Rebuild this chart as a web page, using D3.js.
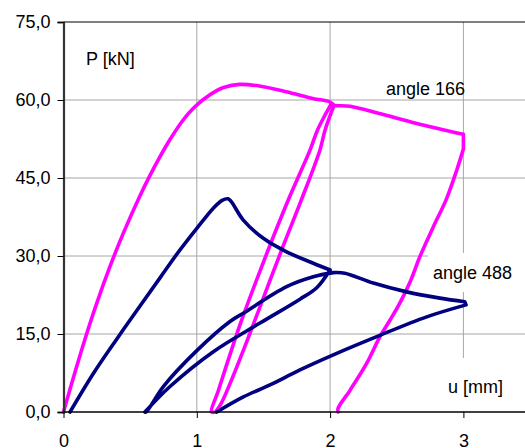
<!DOCTYPE html>
<html lang="en">
<head>
<meta charset="UTF-8">
<title>P - u curves</title>
<script src="https://d3js.org/d3.v7.min.js"></script>
<style>
  body{margin:0;background:#fff;}
  svg{display:block;font-family:"Liberation Sans",Arial,sans-serif;}
  .tick text{font-size:18px;fill:#000;}
  .label{font-size:18px;fill:#000;}
</style>
</head>
<body>
<script>
// axis ticks
const xTicks = [0, 1, 2, 3]
const yTicks = [0, 15, 30, 45, 60, 75]

// angle 166 (magenta): load, unload at 2 mm, reload, load to 3 mm, unload
const a166U = [0, 0.074, 0.161, 0.249, 0.349, 0.449, 0.574, 0.649, 0.724, 0.799, 0.899, 0.974, 1.049, 1.149, 1.2, 1.32, 1.47, 1.67, 1.87, 2.0, 2.03,
               1.962, 1.924, 1.78, 1.637, 1.437, 1.35, 1.25, 1.18, 1.14,
               1.11, 1.16, 1.26, 1.337, 1.536, 1.69, 1.85, 1.905, 1.96, 2.01,
               2.03, 2.15, 2.37, 2.65, 3.0, 3.0,
               2.95, 2.87, 2.774, 2.674, 2.6, 2.524, 2.45, 2.374, 2.275, 2.15, 2.06, 2.06]
const a166P = [0, 6.6, 14.0, 20.9, 28.0, 34.4, 41.6, 45.5, 49.1, 52.4, 56.2, 58.4, 60.1, 61.8, 62.4, 63.0, 62.7, 61.6, 60.3, 59.6, 59.0,
               54.2, 50.4, 40.5, 31.2, 17.7, 11.9, 5.5, 1.5, 0,
               0, 4.0, 11.9, 17.7, 31.2, 41.0, 50.4, 54.2, 57.0, 59.3,
               59.0, 58.8, 57.4, 55.5, 53.4, 50.6,
               46.5, 40.8, 35.6, 29.9, 25.0, 21.0, 17.7, 14.5, 9.4, 4.2, 0.7, 0]
// indices where the path turns sharply
const a166Corners = [20, 29, 39, 44, 45]

// angle 488 (navy)
const a488U = [0.049, 0.224, 0.399, 0.574, 0.724, 0.849, 1.0, 1.124, 1.19, 1.235, 1.26, 1.349, 1.499, 1.674, 1.874, 2.0,
               1.9, 1.774, 1.474, 1.124, 0.799, 0.611,
               0.62, 0.749, 1.0, 1.249, 1.349, 1.674, 1.874, 2.024,
               2.11, 2.324, 2.575, 2.824, 3.01, 3.02,
               2.725, 2.35, 2.024, 1.774, 1.549, 1.349, 1.15]
const a488P = [0, 7.4, 14.0, 20.4, 25.8, 30.3, 35.3, 39.2, 40.7, 41.0, 40.4, 36.9, 33.4, 30.8, 28.6, 27.3,
               23.9, 21.7, 17.1, 11.6, 4.9, 0,
               0, 4.9, 11.8, 17.4, 19.0, 24.1, 26.0, 26.8,
               26.7, 24.8, 23.1, 21.9, 21.2, 20.6,
               18.3, 14.5, 11.0, 8.1, 5.2, 2.9, 0]
const a488Corners = [15, 21, 29, 34, 35]

const svgSize = {width:525, height:448}
const plot = {left:63.5, top:22, bottom:412}

const xScale = d3.scaleLinear().domain([0, 3.5]).range([plot.left, plot.left + 3.5*133.3])
const yScale = d3.scaleLinear().domain([0, 75]).range([plot.bottom, plot.top])

const svg = d3.select("body").append("svg")
    .attr("width", svgSize.width)
    .attr("height", svgSize.height)

// grid
svg.append("g").selectAll("line")
    .data(xTicks.filter(d => d > 0))
    .join("line")
    .attr("x1", d => xScale(d)).attr("x2", d => xScale(d))
    .attr("y1", plot.top).attr("y2", plot.bottom)
    .attr("stroke", "#a6a6a6").attr("stroke-width", 1)
svg.append("g").selectAll("line")
    .data(yTicks.filter(d => d > 0 && d < 75))
    .join("line")
    .attr("x1", plot.left).attr("x2", svgSize.width)
    .attr("y1", d => yScale(d)).attr("y2", d => yScale(d))
    .attr("stroke", "#a6a6a6").attr("stroke-width", 1)
// top border
svg.append("line")
    .attr("x1", plot.left).attr("x2", svgSize.width)
    .attr("y1", yScale(75)).attr("y2", yScale(75))
    .attr("stroke", "#000").attr("stroke-width", 1.2)

// curves, one smooth piece between sharp turns
const line = d3.line()
    .x(d => xScale(d[0]))
    .y(d => yScale(d[1]))
    .curve(d3.curveCatmullRom.alpha(0.5))

function pieces(us, ps, corners) {
  const pts = us.map((u, i) => [u, ps[i]])
  const cuts = [0, ...corners, pts.length - 1]
  let d = ""
  for (let i = 0; i < cuts.length - 1; i++) {
    d += line(pts.slice(cuts[i], cuts[i+1] + 1))
  }
  return d
}

const series = [
  {u:a166U, p:a166P, c:a166Corners, color:"#ff00ff"},
  {u:a488U, p:a488P, c:a488Corners, color:"#000080"}
]
series.forEach(s => {
  svg.append("path")
      .attr("d", pieces(s.u, s.p, s.c))
      .attr("fill", "none")
      .attr("stroke", s.color)
      .attr("stroke-width", 3.6)
      .attr("stroke-linejoin", "round")
      .attr("stroke-linecap", "round")
})

// labels (some sit on a white box)
const labels = [
  {text:"P [kN]", x:86, y:65, box:null},
  {text:"angle 166", x:386, y:95, box:null},
  {text:"angle 488", x:433, y:279, box:{l:5, t:10, b:9}},
  {text:"u [mm]", x:448, y:393, box:{l:25, t:19, b:14}}
]
labels.forEach(l => {
  const g = svg.append("g")
  const t = g.append("text").attr("class", "label")
      .attr("x", l.x).attr("y", l.y).text(l.text)
  if (l.box) {
    const bb = t.node().getBBox()
    g.insert("rect", "text")
        .attr("x", bb.x - l.box.l)
        .attr("y", bb.y - l.box.t)
        .attr("width", svgSize.width - bb.x + l.box.l)
        .attr("height", bb.height + l.box.t + l.box.b)
        .attr("fill", "#fff")
  }
})

// axes
const yAxis = svg.append("g")
    .attr("transform", `translate(${plot.left},0)`)
    .call(d3.axisLeft(yScale).tickValues(yTicks).tickSize(6).tickPadding(7)
        .tickFormat(d => d3.format(".1f")(d).replace(".", ",")))
yAxis.select(".domain").attr("stroke", "#333").attr("stroke-width", 2.2)
yAxis.selectAll(".tick line").attr("stroke", "#000")
yAxis.selectAll(".tick text").attr("font-family", null).attr("font-size", null)

const xAxis = svg.append("g")
    .attr("transform", `translate(0,${plot.bottom})`)
    .call(d3.axisBottom(xScale).tickValues(xTicks).tickSize(6).tickPadding(16)
        .tickFormat(d3.format("d")))
xAxis.select(".domain").attr("stroke", "#000").attr("stroke-width", 1.5)
    .attr("d", `M${plot.left},0H${svgSize.width}`)
xAxis.selectAll(".tick line").attr("stroke", "#000")
xAxis.selectAll(".tick text").attr("font-family", null).attr("font-size", null)
</script>
</body>
</html>
